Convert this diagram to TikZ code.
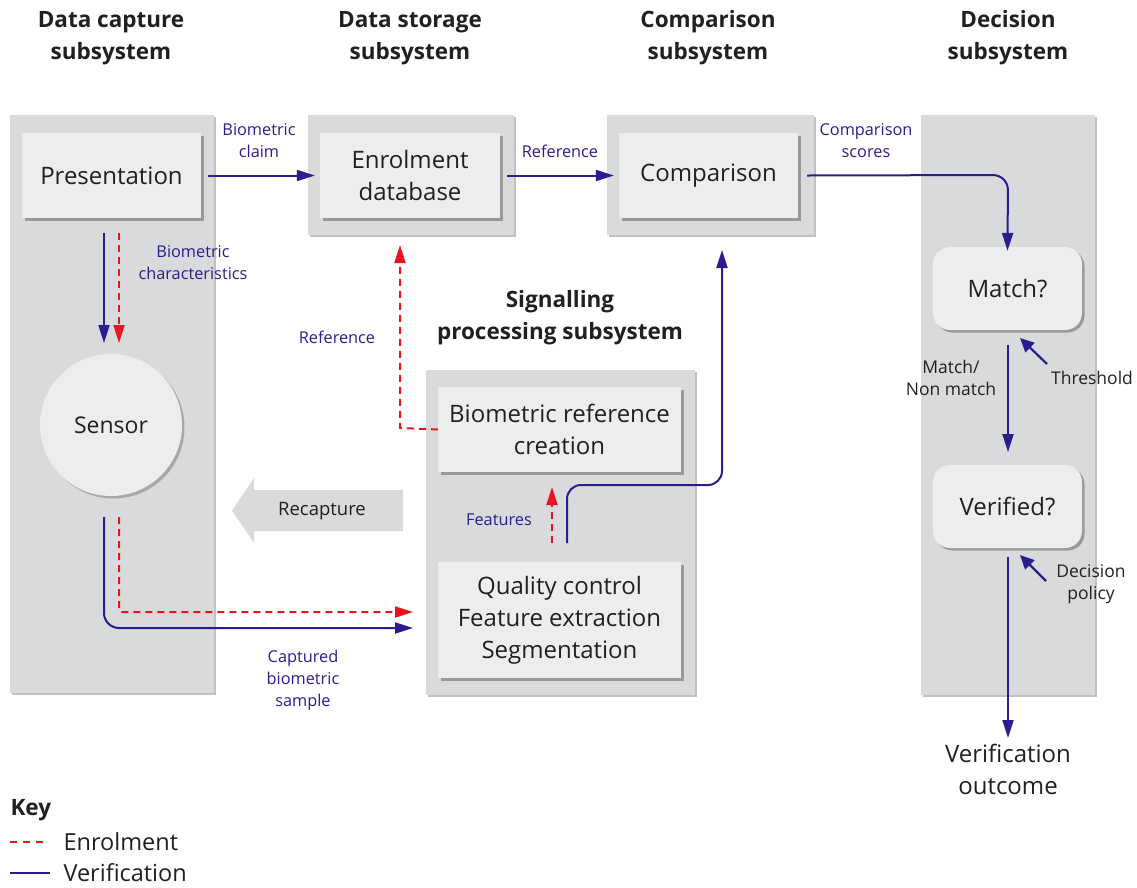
\documentclass[tikz,border=0pt]{standalone}
\usepackage{fontspec}
\setmainfont{Open Sans}
\usetikzlibrary{arrows.meta,shadows}
\definecolor{panelc}{HTML}{D9DADC}
\definecolor{boxc}{HTML}{ECEDEF}
\definecolor{vblue}{HTML}{2B1D8E}
\definecolor{ered}{HTML}{E8141E}
\definecolor{txt}{HTML}{231F20}
\definecolor{recap}{HTML}{D9DADC}
\begin{document}
\begin{tikzpicture}[x=1pt,y=-1pt,
  panelbox/.style={fill=panelc, draw=none, anchor=north west, inner sep=0pt,
    drop shadow={shadow xshift=1.5pt, shadow yshift=-1.5pt, opacity=0.35, fill=black!70}},
  procbox/.style={fill=boxc, draw=none, inner sep=0pt, align=center, text=txt,
    font=\fontsize{24}{32}\selectfont,
    drop shadow={shadow xshift=2.5pt, shadow yshift=-2.5pt, opacity=0.45, fill=black!70}},
  roundbox/.style={procbox, rounded corners=17pt},
  header/.style={font=\fontsize{22.5}{32}\selectfont\bfseries, align=center, text=txt},
  blab/.style={font=\fontsize{16.3}{22}\selectfont, align=center, text=vblue},
  klab/.style={font=\fontsize{17.5}{22}\selectfont, align=center, text=txt},
  vline/.style={draw=vblue, line width=2pt, -{Triangle[length=18pt,width=11pt]}},
  eline/.style={draw=ered, line width=2pt, dash pattern=on 7pt off 5pt, -{Triangle[length=18pt,width=11pt]}},
  ptr/.style={draw=vblue, line width=2.2pt, -{Triangle[length=14pt,width=13pt]}},
]
\useasboundingbox (0,0) rectangle (1137,887);

% headers
\node[header] (h1) at (111,38) {Data capture\\subsystem};
\node[header] (h2) at (410,38) {Data storage\\subsystem};
\node[header] (h3) at (708,38) {Comparison\\subsystem};
\node[header] (h4) at (1008,38) {Decision\\subsystem};
\node[header] (h5) at (560,318) {Signalling\\processing subsystem};

% panels
\node[panelbox, minimum width=204pt, minimum height=578pt] (p1) at (10,115) {};
\node[panelbox, minimum width=206pt, minimum height=120pt] (p2) at (308,115) {};
\node[panelbox, minimum width=207pt, minimum height=120pt] (p3) at (607,115) {};
\node[panelbox, minimum width=174pt, minimum height=580pt] (p4) at (921,115) {};
\node[panelbox, minimum width=269pt, minimum height=325pt] (p5) at (426,370) {};

% boxes
\node[procbox, minimum width=179pt, minimum height=85pt] (pres) at (111.5,175.5) {Presentation};
\node[procbox, minimum width=180pt, minimum height=85pt] (enrol) at (410,175.5) {Enrolment\\database};
\node[procbox, minimum width=179pt, minimum height=85pt] (comp) at (708.5,175.5) {Comparison};
\node[roundbox, minimum width=149pt, minimum height=83pt] (match) at (1007.5,288.5) {Match?};
\node[roundbox, minimum width=149pt, minimum height=83pt] (verif) at (1007.5,506.5) {Verified?};
\node[procbox, minimum width=243pt, minimum height=85pt] (brc) at (559.5,429.5) {Biometric reference\\creation};
\node[procbox, minimum width=243pt, minimum height=116pt] (qc) at (559.5,620) {Quality control\\Feature extraction\\Segmentation};
\node[circle, fill=boxc, draw=none, minimum size=142pt, inner sep=0pt, text=txt,
  font=\fontsize{23}{31}\selectfont,
  drop shadow={shadow xshift=2.5pt, shadow yshift=-2.5pt, opacity=0.35, fill=black!70}] (sensor) at (111,425) {Sensor};

% recapture arrow
\fill[recap] (403,490) -- (254,490) -- (254,478) -- (232,510.5) -- (254,543) -- (254,531) -- (403,531) -- cycle;
\node[font=\fontsize{18.5}{22}\selectfont, text=txt] (recapt) at (322,511) {Recapture};

% outcome
\node[font=\fontsize{24}{32}\selectfont, align=center, text=txt] (outc) at (1008,769) {Verification\\outcome};

% labels
\node[blab] (lclaim) at (259,141) {Biometric\\claim};
\node[blab] (lref1) at (560,151) {Reference};
\node[blab] (lscore) at (866,141) {Comparison\\scores};
\node[blab] (lchar) at (193,263) {Biometric\\characteristics};
\node[blab] (lcap) at (303,680) {Captured\\biometric\\sample};
\node[blab] (lref2) at (337,337) {Reference};
\node[blab] (lfeat) at (499,520) {Features};
\node[klab] (lmatch) at (951,378) {Match/\\Non match};
\node[klab] (lthr) at (1092,378) {Threshold};
\node[klab] (lpol) at (1091,584) {Decision\\policy};

% connectors
\draw[vline] ([xshift=7pt]pres.east) -- ([xshift=-5pt]enrol.west);
\draw[vline] ([xshift=7pt]enrol.east) -- ([xshift=-5pt]comp.west);
\coordinate (csc) at (1008,175);
\draw[vline, rounded corners=15pt] ([xshift=9pt]comp.east) -- (csc) -- ([yshift=-4pt]match.north);

\draw[vline] (104,233) -- (104,343);
\draw[eline] (119,233) -- (119,343);

\coordinate (sb1) at (104,628);
\coordinate (sb2) at (119,612);
\draw[vline, rounded corners=15pt] (104,517) -- (sb1) -- (413,628);
\draw[eline, rounded corners=3pt] (119,517) -- (sb2) -- (413,612);

\coordinate (rf1) at (400,428);
\draw[eline] ([xshift=0pt]brc.west) -- (rf1) -- (400,245);

\draw[eline] (552,543) -- (552,487);
\coordinate (ft1) at (567,485);
\coordinate (ft2) at (722,485);
\draw[vline, rounded corners=14pt] (567,543) -- (ft1) -- (ft2) -- (722,250);

\draw[vline] (1008,345) -- (1008,452);
\draw[ptr] (1047,364) -- (1020,338);
\draw[ptr] (1046,581) -- (1020,555);
\draw[vline] (1008,557) -- (1008,738);

% key
\node[font=\fontsize{22.5}{26}\selectfont\bfseries, text=txt, anchor=west] (kkey) at (7,810) {Key};
\coordinate (k1a) at (10,842);
\coordinate (k1b) at (49,842);
\draw[draw=ered, line width=1.8pt, dash pattern=on 7pt off 6pt] (k1a) -- (k1b);
\node[font=\fontsize{23.5}{26}\selectfont, text=txt, anchor=west] (kenr) at (60,842) {Enrolment};
\coordinate (k2a) at (10,873);
\coordinate (k2b) at (50,873);
\draw[draw=vblue, line width=1.8pt] (k2a) -- (k2b);
\node[font=\fontsize{23.5}{26}\selectfont, text=txt, anchor=west] (kver) at (60,873) {Verification};
\end{tikzpicture}
\end{document}
